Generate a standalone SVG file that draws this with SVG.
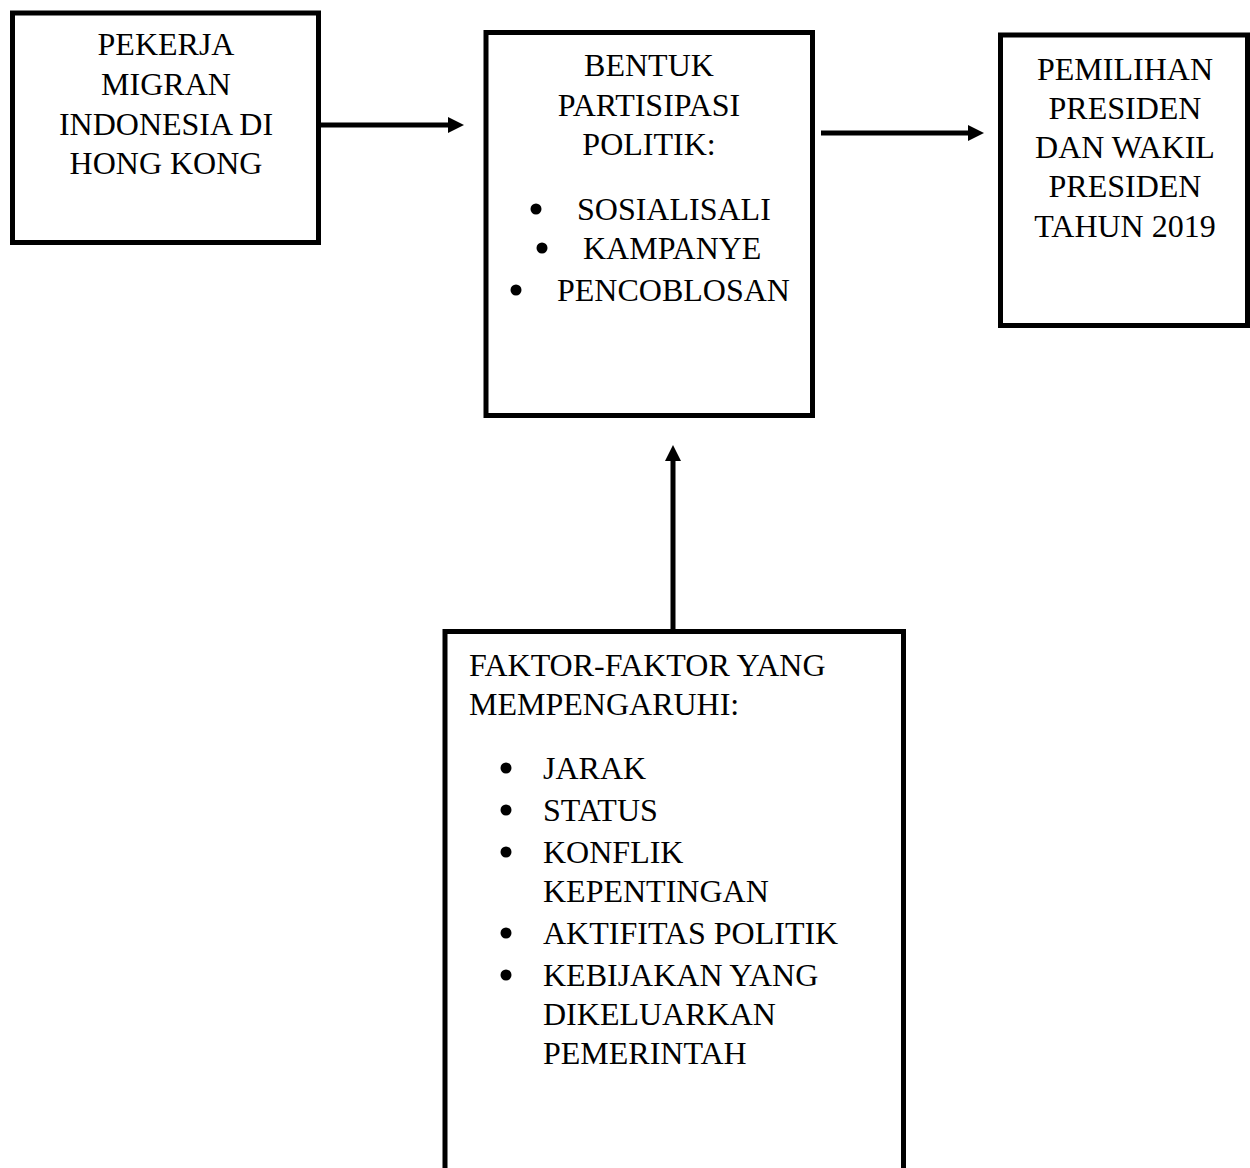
<svg xmlns="http://www.w3.org/2000/svg" width="1250" height="1168" viewBox="0 0 1250 1168">
<style>
.box{fill:#fff;stroke:#000;stroke-width:5}
.t{font-family:"Liberation Serif","Times New Roman",serif;font-size:32px;fill:#000}
.c{text-anchor:middle}
.dot{fill:#000}
.con{stroke:#000;stroke-width:5;fill:none}
</style>
<defs>
<marker id="ah" markerUnits="userSpaceOnUse" markerWidth="16" markerHeight="16" refX="4" refY="8" orient="auto">
<path d="M0,0 L16,8 L0,16 z" fill="#000"/>
</marker>
</defs>
<rect width="1250" height="1168" fill="#fff"/>
<g id="connectors">
<line class="con" x1="320" y1="125" x2="452" y2="125" marker-end="url(#ah)"/>
<line class="con" x1="821" y1="133" x2="972" y2="133" marker-end="url(#ah)"/>
<line class="con" x1="673" y1="630" x2="673" y2="457" marker-end="url(#ah)"/>
</g>
<g id="node-pekerja">
<rect class="box" x="12.5" y="13" width="306" height="229.5"/>
<text class="t c" x="166" y="55">PEKERJA</text>
<text class="t c" x="166" y="95">MIGRAN</text>
<text class="t c" x="166" y="135">INDONESIA DI</text>
<text class="t c" x="166" y="174">HONG KONG</text>
</g>
<g id="node-bentuk">
<rect class="box" x="486" y="32.5" width="326.5" height="383"/>
<text class="t c" x="649" y="76">BENTUK</text>
<text class="t c" x="649" y="116">PARTISIPASI</text>
<text class="t c" x="649" y="155">POLITIK:</text>
<circle class="dot" cx="536" cy="209" r="5.5"/>
<text class="t" x="577" y="220">SOSIALISALI</text>
<circle class="dot" cx="542" cy="248" r="5.5"/>
<text class="t" x="583" y="259">KAMPANYE</text>
<circle class="dot" cx="516" cy="290" r="5.5"/>
<text class="t" x="557" y="301">PENCOBLOSAN</text>
</g>
<g id="node-pemilihan">
<rect class="box" x="1000.5" y="35" width="247" height="290.5"/>
<text class="t c" x="1125" y="80">PEMILIHAN</text>
<text class="t c" x="1125" y="119">PRESIDEN</text>
<text class="t c" x="1125" y="158">DAN WAKIL</text>
<text class="t c" x="1125" y="197">PRESIDEN</text>
<text class="t c" x="1125" y="237">TAHUN 2019</text>
</g>
<g id="node-faktor">
<rect class="box" x="445" y="631.5" width="458.5" height="560"/>
<text class="t" x="469" y="676">FAKTOR-FAKTOR YANG</text>
<text class="t" x="469" y="715">MEMPENGARUHI:</text>
<circle class="dot" cx="506" cy="768" r="5.5"/>
<text class="t" x="543" y="779">JARAK</text>
<circle class="dot" cx="506" cy="810" r="5.5"/>
<text class="t" x="543" y="821">STATUS</text>
<circle class="dot" cx="506" cy="852" r="5.5"/>
<text class="t" x="543" y="863">KONFLIK</text>
<text class="t" x="543" y="902">KEPENTINGAN</text>
<circle class="dot" cx="506" cy="933" r="5.5"/>
<text class="t" x="543" y="944">AKTIFITAS POLITIK</text>
<circle class="dot" cx="506" cy="975" r="5.5"/>
<text class="t" x="543" y="986">KEBIJAKAN YANG</text>
<text class="t" x="543" y="1025">DIKELUARKAN</text>
<text class="t" x="543" y="1064">PEMERINTAH</text>
</g>
</svg>
